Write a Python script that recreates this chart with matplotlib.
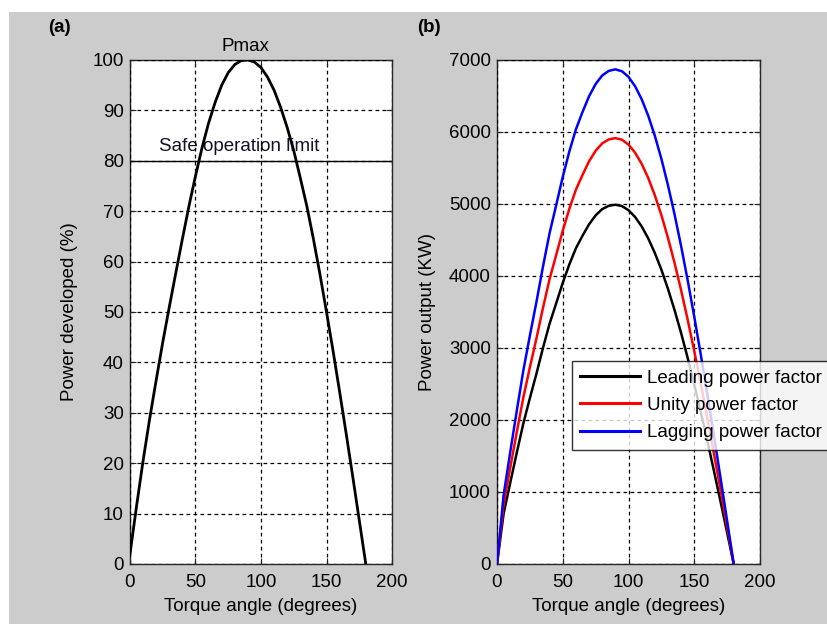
import matplotlib
matplotlib.use("Agg")
import matplotlib.pyplot as plt
from matplotlib.patches import Rectangle

plt.rcParams["font.family"] = ["Liberation Sans", "DejaVu Sans"]

# Panel (a): percentage of maximum power versus torque angle
angle_a = [0, 5, 10, 15, 20, 25, 30, 35, 40, 45, 50, 55, 60, 65, 70, 75, 80, 85,
           90, 95, 100, 105, 110, 115, 120, 125, 130, 135, 140, 145, 150, 155,
           160, 165, 170, 175, 180]
power_pct = [2, 11.5, 20.5, 28.8, 36.5, 44, 51, 57.8, 64.5, 71, 77, 82.6, 87.5,
             91.6, 95, 97.5, 99.1, 99.9, 100, 99.6, 98.5, 96.6, 94, 90.6, 86.6,
             82, 76.6, 71, 64.5, 57.5, 50, 42.3, 34.2, 25.9, 17.4, 8.7, 0]
safe_limit = 80

# Panel (b): power output (kW) for three power factors
angle_b = [0, 5, 10, 15, 20, 25, 30, 35, 40, 45, 50, 55, 60, 65, 70, 75, 80, 85,
           90, 95, 100, 105, 110, 115, 120, 125, 130, 135, 140, 145, 150, 155,
           160, 165, 170, 175, 180]
leading = [0, 695, 1123, 1542, 1950, 2304, 2644, 3003, 3339, 3620, 3905, 4161,
           4385, 4558, 4718, 4842, 4929, 4975, 4990, 4971, 4914, 4820, 4689, 4522,
           4321, 4088, 3822, 3528, 3208, 2862, 2495, 2109, 1707, 1291, 866, 435, 0]
unity = [0, 823, 1331, 1828, 2311, 2731, 3134, 3560, 3958, 4291, 4629, 4933,
         5198, 5403, 5593, 5739, 5842, 5897, 5915, 5893, 5825, 5713, 5558, 5361,
         5122, 4846, 4531, 4183, 3802, 3393, 2958, 2500, 2023, 1531, 1027, 516, 0]
lagging = [0, 956, 1546, 2123, 2684, 3172, 3640, 4134, 4597, 4983, 5376, 5729,
           6037, 6276, 6496, 6666, 6785, 6849, 6870, 6844, 6766, 6636, 6456, 6226,
           5949, 5628, 5262, 4858, 4416, 3941, 3435, 2903, 2350, 1778, 1193, 599, 0]
series_labels = ["Leading power factor", "Unity power factor", "Lagging power factor"]
series_colors = ["#000000", "#ff0000", "#0000ff"]

x_ticks = [0, 50, 100, 150, 200]
ya_ticks = list(range(0, 101, 10))
yb_ticks = list(range(0, 7001, 1000))

W, H = 828, 624
fig = plt.figure(figsize=(W / 100, H / 100), dpi=100, facecolor="white")
fig.patches.append(Rectangle((9 / W, 0), 1, 1 - 12 / H, transform=fig.transFigure,
                             facecolor="#cccccc", edgecolor="none", zorder=-10))

FS = 13.5
GRID = dict(color="black", linestyle=(0, (3, 2.6)), linewidth=0.9)


def style_axes(ax):
    ax.set_facecolor("white")
    for sp in ax.spines.values():
        sp.set_color("#262626")
        sp.set_linewidth(1.0)
    ax.tick_params(direction="in", length=4, width=0.8, labelsize=FS,
                   top=True, right=True, colors="#262626", labelcolor="black")
    ax.tick_params(axis="y", pad=4.5)
    ax.tick_params(axis="x", pad=7)
    ax.grid(True, **GRID)
    ax.set_axisbelow(False)
    ax.set_xlim(0, 200)
    ax.set_xticks(x_ticks)
    ax.set_xlabel("Torque angle (degrees)", fontsize=FS, labelpad=5)


ax1 = fig.add_axes([130 / W, 60 / H, 262 / W, 504 / H])
style_axes(ax1)
ax1.set_ylim(0, 100)
ax1.set_yticks(ya_ticks)
ax1.set_ylabel("Power developed (%)", fontsize=FS, labelpad=10)
ax1.axhline(safe_limit, color="black", linewidth=1.0, zorder=3)
ax1.text(22, 81.2, "Safe operation limit", fontsize=FS, ha="left", va="bottom",
         color="#10102a", zorder=2)
ax1.text(88, 101.0, "Pmax", fontsize=FS, ha="center", va="bottom", color="black",
         clip_on=False)
ax1.plot(angle_a, power_pct, color="black", linewidth=2.0, zorder=4)

ax2 = fig.add_axes([497 / W, 60 / H, 263 / W, 504 / H])
style_axes(ax2)
ax2.set_ylim(0, 7000)
ax2.set_yticks(yb_ticks)
ax2.set_ylabel("Power output (KW)", fontsize=FS, labelpad=9)
for vals, lab, col in zip([leading, unity, lagging], series_labels, series_colors):
    ax2.plot(angle_b, vals, color=col, linewidth=1.8, label=lab, zorder=4)

leg = ax2.legend(loc="upper left", bbox_to_anchor=(572 / W, 1 - 361 / H),
                 bbox_transform=fig.transFigure, borderaxespad=0, fontsize=FS,
                 frameon=True, fancybox=False, handlelength=3.2,
                 handletextpad=0.33, borderpad=0.45, labelspacing=0.55)
leg.get_frame().set_edgecolor("black")
leg.get_frame().set_linewidth(1.0)
for line in leg.get_lines():
    line.set_linewidth(2.2)
leg.set_zorder(10)

fig.text(48 / W, 1 - 27 / H, "(a)", fontsize=FS, fontweight="bold", va="center", ha="left")
fig.text(417 / W, 1 - 27 / H, "(b)", fontsize=FS, fontweight="bold", va="center", ha="left")

fig.savefig("out.png", dpi=100, facecolor=fig.get_facecolor())
